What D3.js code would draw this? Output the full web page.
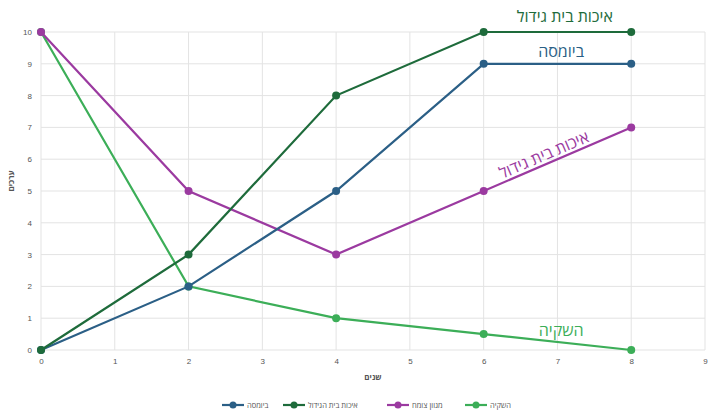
<!DOCTYPE html>
<html><head><meta charset="utf-8">
<script src="https://cdn.jsdelivr.net/npm/d3@7"></script>
<style>body{margin:0;background:#fff}svg{display:block;font-family:"Open Sans","Noto Sans",sans-serif}</style>
</head><body><svg id="c" width="708" height="414"></svg>
<script>
const xValues = [0, 2, 4, 6, 8];
const biomass = [0, 2, 5, 9, 9];
const habitat = [0, 3, 8, 10, 10];
const vegetation = [10, 5, 3, 5, 7];
const irrigation = [10, 2, 1, 0.5, 0];
const seriesNames = ["ביומסה", "איכות בית הגידול", "מגוון צומח", "השקיה"];
const seriesColors = ["#2b5f86", "#1e6b3b", "#9b3aa0", "#3cae58"];
const xTicks = [0,1,2,3,4,5,6,7,8,9];
const yTicks = [0,1,2,3,4,5,6,7,8,9,10];
const xTitle = "שנים";
const yTitle = "ערכים";

const svg = d3.select("#c");
const x = d3.scaleLinear().domain([0,9]).range([41,705]);
const y = d3.scaleLinear().domain([0,10]).range([350,32]);

// grid
svg.append("g").selectAll("line.v").data(xTicks).join("line")
  .attr("x1",d=>x(d)).attr("x2",d=>x(d)).attr("y1",y(0)).attr("y2",y(10))
  .attr("stroke","#e3e3e3").attr("stroke-width",1);
svg.append("g").selectAll("line.h").data(yTicks).join("line")
  .attr("x1",x(0)).attr("x2",x(9)).attr("y1",d=>y(d)).attr("y2",d=>y(d))
  .attr("stroke","#e3e3e3").attr("stroke-width",1);

// axes labels
const xAxis = svg.append("g").attr("transform",`translate(0,${y(0)})`)
  .call(d3.axisBottom(x).tickValues(xTicks).tickSize(0).tickPadding(8));
xAxis.select(".domain").remove();
xAxis.selectAll("text").attr("font-size",8).attr("fill","#555");
const yAxis = svg.append("g").attr("transform",`translate(${x(0)},0)`)
  .call(d3.axisLeft(y).tickValues(yTicks).tickSize(0).tickPadding(9));
yAxis.select(".domain").remove();
yAxis.selectAll("text").attr("font-size",8).attr("fill","#555");

svg.append("text").attr("x",373).attr("y",380).attr("text-anchor","middle")
  .attr("font-size",8).attr("font-weight","bold").attr("fill","#555").text(xTitle);
svg.append("text").attr("transform","translate(14,181) rotate(-90)").attr("text-anchor","middle")
  .attr("font-size",8).attr("font-weight","bold").attr("fill","#555").text(yTitle);

// series
const data = [biomass, habitat, vegetation, irrigation];
const line = d3.line().x((d,i)=>x(xValues[i])).y(d=>y(d));
const order = [3,2,0,1];
order.forEach(s=>{
  const g = svg.append("g");
  g.append("path").attr("d",line(data[s])).attr("fill","none")
    .attr("stroke",seriesColors[s]).attr("stroke-width",2.2);
  g.selectAll("circle").data(data[s]).join("circle")
    .attr("cx",(d,i)=>x(xValues[i])).attr("cy",d=>y(d)).attr("r",4)
    .attr("fill",seriesColors[s]);
});

// annotations
svg.append("text").attr("x",x(7.1)).attr("y",y(10)-10).attr("text-anchor","middle")
  .attr("font-size",16).attr("fill",seriesColors[1]).text("איכות בית גידול");
svg.append("text").attr("x",x(7.05)).attr("y",y(9)-7).attr("text-anchor","middle")
  .attr("font-size",16).attr("fill",seriesColors[0]).text("ביומסה");
{
  const ang = Math.atan2(y(7)-y(5), x(8)-x(6))*180/Math.PI;
  const mx = x(6.85), my = y(5.85)-4;
  svg.append("text").attr("transform",`translate(${mx},${my}) rotate(${ang})`).attr("text-anchor","middle")
    .attr("font-size",16).attr("fill",seriesColors[2]).text("איכות בית גידול");
}
svg.append("text").attr("x",x(7.05)).attr("y",y(0.25)-6).attr("text-anchor","middle")
  .attr("font-size",16).attr("fill",seriesColors[3]).text("השקיה");

// legend
const legendX = [222, 283, 387, 465];
const lg = svg.append("g");
seriesNames.forEach((n,i)=>{
  const g = lg.append("g").attr("transform",`translate(${legendX[i]},405)`);
  g.append("line").attr("x1",0).attr("x2",22).attr("stroke",seriesColors[i]).attr("stroke-width",2.2);
  g.append("circle").attr("cx",11).attr("r",3.5).attr("fill",seriesColors[i]);
  g.append("text").attr("x",25).attr("y",3).attr("font-size",7.5).attr("fill","#555").text(n);
});
</script></body></html>
